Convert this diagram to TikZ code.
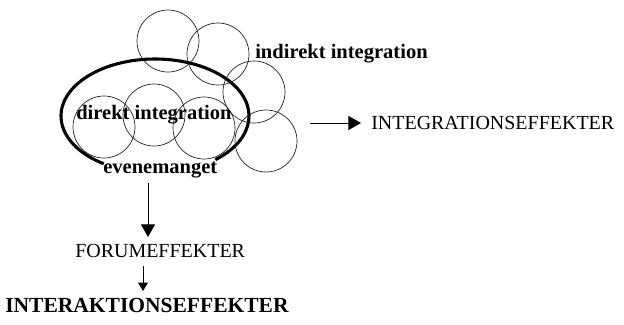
\documentclass[tikz,border=0pt]{standalone}
\usepackage{fontspec}
\setmainfont{Liberation Serif}
\usetikzlibrary{arrows.meta,positioning}

\begin{document}
\begin{tikzpicture}[
    x=0.025cm, y=-0.025cm,
    circ/.style={draw=black!85, line width=0.5pt},
    boldlabel/.style={font=\fontsize{14.6}{16}\selectfont\bfseries, inner sep=0pt, anchor=base west},
    capslabel/.style={font=\fontsize{14.2}{16}\selectfont, inner sep=0pt, anchor=base west},
    bigtip/.style={-{Triangle[width=10pt,length=9pt]}, line width=0.7pt},
    smalltip/.style={-{Triangle[width=7pt,length=6pt]}, line width=0.7pt}
]

% Canvas
\useasboundingbox (0,0) rectangle (624,324);

% Circles (integration)
\foreach \cx/\cy in {168/41, 218/54, 254/92, 266/141, 104/127, 154/115, 204/128}
    \draw[circ] (\cx,\cy) circle (31);

% The event (thick open ellipse)
\draw[line width=2.2pt] ([shift={(50:94 and 57)}]155,116) arc[start angle=50, end angle=-237, x radius=94, y radius=57];

% Labels
\node[boldlabel] (indirekt) at (255,58) {indirekt integration};
\node[boldlabel] (direkt) at (76,119) {direkt integration};
\node[boldlabel] (event) at (103,173) {evenemanget};
\node[capslabel] (integr) at (371,129) {INTEGRATIONSEFFEKTER};
\node[capslabel] (forum) at (75,257) {FORUMEFFEKTER};
\node[boldlabel, font=\fontsize{15.3}{17}\selectfont\bfseries] (interakt) at (5,312) {INTERAKTIONSEFFEKTER};

% Arrow anchors
\coordinate (integrstart) at (310,123);
\coordinate (integrin) at (361,123);
\coordinate (eventout) at (148,183);
\coordinate (forumin) at (148,237);
\coordinate (forumout) at (143,266);
\coordinate (interaktin) at (143,291);

% Arrows
\draw[bigtip] (integrstart) -- (integrin);
\draw[bigtip] (eventout) -- (forumin);
\draw[smalltip] (forumout) -- (interaktin);

\end{tikzpicture}
\end{document}
